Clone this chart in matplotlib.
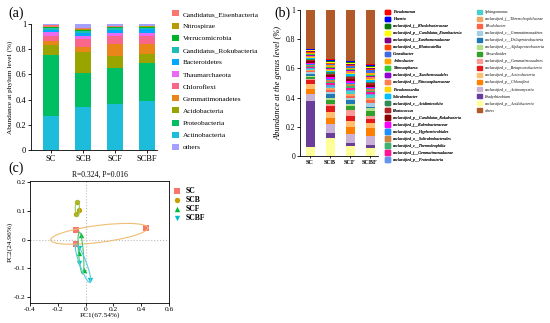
import numpy as np
import matplotlib
matplotlib.use("Agg")
import matplotlib.pyplot as plt
from matplotlib.patches import Patch, Ellipse

plt.rcParams['font.family'] = 'Liberation Serif'

samples = ['SC', 'SCB', 'SCF', 'SCBF']

# (a) phylum level, bottom -> top of each bar
phyla = ['Actinobacteria', 'Proteobacteria', 'Acidobacteria', 'Gemmatimonadetes',
         'Chloroflexi', 'Thaumarchaeota', 'Bacteroidetes', 'Candidatus_Rokubacteria',
         'Verrucomicrobia', 'Nitrospirae', 'Candidatus_Eisenbacteria', 'others']
phylum_colors = ['#1EBCDB', '#00BF63', '#9AA400', '#E8861A', '#F8668A', '#E86BF2',
                 '#00A7FF', '#1CBFB4', '#00B52A', '#B89A00', '#F8766D', '#A3A0FF']
phylum_SC = [0.270, 0.484, 0.079, 0.035, 0.039, 0.033, 0.012, 0.014, 0.007, 0.007, 0.010, 0.010]
phylum_SCB = [0.344, 0.270, 0.161, 0.045, 0.060, 0.027, 0.023, 0.014, 0.011, 0.008, 0.007, 0.030]
phylum_SCF = [0.365, 0.288, 0.093, 0.093, 0.068, 0.019, 0.026, 0.014, 0.007, 0.006, 0.005, 0.016]
phylum_SCBF = [0.390, 0.303, 0.072, 0.076, 0.066, 0.019, 0.032, 0.010, 0.008, 0.005, 0.006, 0.013]

# (b) genus level, in legend order (bar is stacked from the last genus upward, others on top)
genera = ['Pseudomonas', 'Haemia', 'unclassified_f__Rhodobacteraceae',
          'unclassified_p__Candidatus_Eisenbacteria', 'unclassified_f__Xanthomonadaceae',
          'unclassified_o__Blastocatellia', 'Conexibacter', 'Arthrobacter', 'Nitrososphaera',
          'unclassified_o__Xanthomonadales', 'unclassified_f__Nitrososphaeraceae',
          'Pseudonocardia', 'Solirubrobacter', 'unclassified_c__Acidimicrobiia',
          'Blastococcus', 'unclassified_p__Candidatus_Rokubacteria',
          'unclassified_f__Rubrobacteraceae', 'unclassified_o__Hyphomicrobiales',
          'unclassified_o__Solirubrobacterales', 'unclassified_c__Thermoleophilia',
          'unclassified_f__Gemmatimonadaceae', 'unclassified_p__Proteobacteria',
          'Sphingomonas', 'unclassified_f__Thermoleophilaceae', 'Rhodobacter',
          'unclassified_c__Gemmatimonadetes', 'unclassified_c__Deltaproteobacteria',
          'unclassified_c__Alphaproteobacteria', 'Nocardioides',
          'unclassified_p__Gemmatimonadetes', 'unclassified_c__Betaproteobacteria',
          'unclassified_p__Actinobacteria', 'unclassified_p__Chloroflexi',
          'unclassified_c__Actinomycetia', 'Bradyrhizobium', 'unclassified_p__Acidobacteria',
          'others']
genus_colors = ['#FF0000', '#0000FF', '#0B7A0B', '#FFFF00', '#800080', '#FF4500', '#4169E1',
                '#FFA500', '#32CD32', '#9400D3', '#FF7F50', '#FFD700', '#00BFFF', '#2E8B57',
                '#B22222', '#8B0000', '#FF00FF', '#1E90FF', '#CD853F', '#3CB371', '#FF1493',
                '#6495ED', '#48D1CC', '#F4A460', '#FF6347', '#A6CEE3', '#1F78B4', '#B2DF8A',
                '#33A02C', '#FB9A99', '#E31A1C', '#FDBF6F', '#FF7F00', '#CAB2D6', '#6A3D9A',
                '#FFFF99', '#B15928']
genus_SC = [0.004, 0.003, 0.005, 0.005, 0.004, 0.006, 0.005, 0.007, 0.006, 0.005, 0.007,
            0.006, 0.008, 0.006, 0.007, 0.012, 0.008, 0.006, 0.007, 0.008, 0.006, 0.006,
            0.008, 0.010, 0.006, 0.010, 0.015, 0.008, 0.014, 0.008, 0.023, 0.037, 0.037,
            0.043, 0.315, 0.064, 0.265]
genus_SCB = [0.004, 0.004, 0.006, 0.008, 0.005, 0.007, 0.006, 0.008, 0.009, 0.006, 0.008,
             0.007, 0.010, 0.009, 0.009, 0.014, 0.012, 0.010, 0.011, 0.011, 0.012, 0.009,
             0.012, 0.015, 0.012, 0.014, 0.023, 0.016, 0.025, 0.016, 0.039, 0.046, 0.041,
             0.059, 0.032, 0.126, 0.339]
genus_SCF = [0.005, 0.005, 0.008, 0.006, 0.007, 0.008, 0.008, 0.009, 0.010, 0.008, 0.009,
             0.008, 0.012, 0.011, 0.010, 0.014, 0.012, 0.011, 0.012, 0.011, 0.016, 0.010,
             0.020, 0.015, 0.014, 0.012, 0.025, 0.014, 0.027, 0.039, 0.037, 0.039, 0.053,
             0.062, 0.018, 0.068, 0.347]
genus_SCBF = [0.006, 0.012, 0.007, 0.005, 0.008, 0.008, 0.020, 0.009, 0.010, 0.008, 0.009,
              0.008, 0.012, 0.010, 0.012, 0.012, 0.010, 0.010, 0.010, 0.011, 0.012, 0.008,
              0.018, 0.016, 0.020, 0.023, 0.012, 0.018, 0.034, 0.023, 0.027, 0.030, 0.057,
              0.062, 0.018, 0.057, 0.368]

# (c) PCoA
pc1_SC, pc2_SC = [-0.070, 0.435, -0.070], [0.035, 0.040, -0.015]
pc1_SCB, pc2_SCB = [-0.065, -0.045, -0.068], [0.133, 0.104, 0.088]
pc1_SCF, pc2_SCF = [-0.035, -0.050, -0.015], [0.015, -0.048, -0.107]
pc1_SCBF, pc2_SCBF = [-0.045, -0.045, 0.035], [-0.030, -0.083, -0.140]
pcoa_title = 'R=0.324, P=0.016'

fig = plt.figure(figsize=(5.5, 3.23), dpi=100)

# ---------- (a) ----------
axa = fig.add_axes([31 / 550, 1 - 150 / 323, 126 / 550, 126 / 323])
phylum_data = np.array([phylum_SC, phylum_SCB, phylum_SCF, phylum_SCBF])
x = np.arange(len(samples))
bottom = np.zeros(len(samples))
for i, name in enumerate(phyla):
    axa.bar(x, phylum_data[:, i], 0.5, bottom=bottom, color=phylum_colors[i], label=name)
    bottom += phylum_data[:, i]
axa.set_xlim(-0.625, 3.31)
axa.set_ylim(0, 1)
axa.set_yticks([0, 0.2, 0.4, 0.6, 0.8, 1])
axa.set_yticklabels(['0', '0.2', '0.4', '0.6', '0.8', '1'])
axa.set_xticks(x)
axa.set_xticklabels(samples)
axa.tick_params(labelsize=6, length=2, width=0.6, pad=1.5)
axa.spines['top'].set_visible(False)
axa.spines['right'].set_visible(False)
for s in ['left', 'bottom']:
    axa.spines[s].set_linewidth(0.6)
axa.set_ylabel('Abundance at phylum level (%)', fontsize=5.2, labelpad=2)
fig.text(8 / 550, 1 - 13 / 323, '(a)', fontsize=10, va='center')
h, l = axa.get_legend_handles_labels()
h = h[-2::-1] + [h[-1]]
l = l[-2::-1] + [l[-1]]
fig.legend(h, l, loc='upper left', bbox_to_anchor=(172 / 550, 1 - 10.5 / 323),
           frameon=False, fontsize=5.2, handlelength=0.9, handleheight=0.9,
           handletextpad=0.6, labelspacing=0.78, borderpad=0, borderaxespad=0)

# ---------- (b) ----------
axb = fig.add_axes([300 / 550, 1 - 156 / 323, 78 / 550, 146 / 323])
genus_data = np.array([genus_SC, genus_SCB, genus_SCF, genus_SCBF])
order = list(range(len(genera) - 2, -1, -1)) + [len(genera) - 1]
bottom = np.zeros(len(samples))
for i in order:
    axb.bar(x, genus_data[:, i], 0.45, bottom=bottom, color=genus_colors[i])
    bottom += genus_data[:, i]
axb.set_xlim(-0.5, 3.4)
axb.set_ylim(0, 1)
axb.set_yticks([0, 0.2, 0.4, 0.6, 0.8, 1])
axb.set_yticklabels(['0', '0.2', '0.4', '0.6', '0.8', '1'])
axb.set_xticks(x)
axb.set_xticklabels(samples, fontweight='bold')
axb.tick_params(axis='y', labelsize=5.5, length=2, width=0.6, pad=1.5)
axb.tick_params(axis='x', labelsize=4.5, length=1.5, width=0.6, pad=1.5)
axb.spines['top'].set_visible(False)
axb.spines['right'].set_visible(False)
for s in ['left', 'bottom']:
    axb.spines[s].set_linewidth(0.6)
axb.set_ylabel('Abundance at the genus level (%)', fontsize=6, style='italic', labelpad=2)
fig.text(274 / 550, 1 - 13 / 323, '(b)', fontsize=10, va='center')

handles_b = [Patch(color=genus_colors[i]) for i in range(len(genera))]
leg_kw = dict(loc='upper left', frameon=False, prop={'size': 2.9, 'style': 'italic'},
              handlelength=1.3, handleheight=1.3, handletextpad=0.7, labelspacing=0.62,
              borderpad=0, borderaxespad=0)
leg1 = fig.legend(handles_b[:22], genera[:22], bbox_to_anchor=(385 / 550, 1 - 9.5 / 323),
                  **leg_kw)
fig.add_artist(leg1)
fig.legend(handles_b[22:], genera[22:], bbox_to_anchor=(477 / 550, 1 - 9.5 / 323), **leg_kw)


# ---------- (c) ----------
def cov_ellipse(ax, xs, ys, color, n_std=1.2):
    xs = np.asarray(xs)
    ys = np.asarray(ys)
    cov = np.cov(xs, ys)
    vals, vecs = np.linalg.eigh(cov)
    angle = np.degrees(np.arctan2(vecs[1, 1], vecs[0, 1]))
    w, hgt = 2 * n_std * np.sqrt(vals[1]), 2 * n_std * np.sqrt(vals[0])
    e = Ellipse((xs.mean(), ys.mean()), w, hgt, angle=angle, fill=False,
                edgecolor=color, linewidth=0.8, zorder=4)
    ax.add_patch(e)


axc = fig.add_axes([30 / 550, 1 - 303 / 323, 139 / 550, 122 / 323])
axc.axhline(0, color='#BBBBBB', linestyle=':', linewidth=0.8, zorder=1)
axc.axvline(0, color='#BBBBBB', linestyle=':', linewidth=0.8, zorder=1)
groups = [
    ('SC', pc1_SC, pc2_SC, '#F8766D', 's', '#EFBE72'),
    ('SCB', pc1_SCB, pc2_SCB, '#C4A000', 'o', '#8CCB5E'),
    ('SCF', pc1_SCF, pc2_SCF, '#00BA38', '^', '#4CC46A'),
    ('SCBF', pc1_SCBF, pc2_SCBF, '#00BFC4', 'v', '#55CCE6'),
]
for name, xs, ys, col, mk, ecol in groups:
    cov_ellipse(axc, xs, ys, ecol)
    axc.scatter(xs, ys, s=15, marker=mk, color=col, zorder=3, linewidths=0, label=name)
axc.set_xlim(-0.4, 0.6)
axc.set_ylim(-0.222, 0.205)
axc.set_xticks([-0.4, -0.2, 0, 0.2, 0.4, 0.6])
axc.set_xticklabels(['-0.4', '-0.2', '0', '0.2', '0.4', '0.6'])
axc.set_yticks([-0.2, -0.1, 0, 0.1, 0.2])
axc.set_yticklabels(['-0.2', '-0.1', '0', '0.1', '0.2'])
axc.tick_params(labelsize=5.3, length=2, width=0.6, pad=1)
for s in axc.spines.values():
    s.set_linewidth(0.6)
axc.set_title(pcoa_title, fontsize=5.5, pad=3)
axc.set_xlabel('PC1(67.54%)', fontsize=5.3, labelpad=0)
axc.set_ylabel('PC2(24.96%)', fontsize=5.3, labelpad=1)
fig.text(8 / 550, 1 - 168 / 323, '(c)', fontsize=10, va='center')
axc.legend(loc='upper left', bbox_to_anchor=(173 / 550, 1 - 187 / 323),
           bbox_transform=fig.transFigure, frameon=False,
           prop={'size': 5.5, 'weight': 'bold'}, handlelength=1.0, handletextpad=0.6,
           labelspacing=0.12, borderpad=0, borderaxespad=0, scatterpoints=1)

fig.savefig('out.png', dpi=100)
